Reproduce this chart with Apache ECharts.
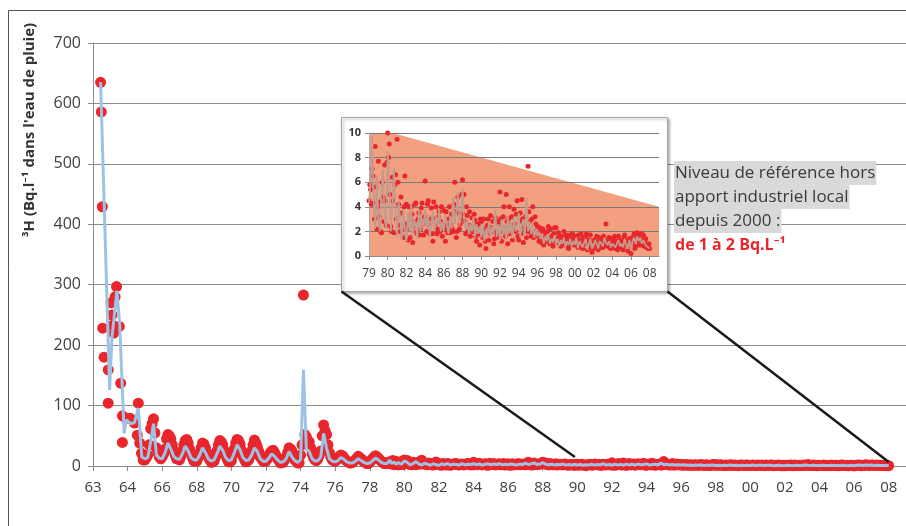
<!DOCTYPE html>
<html><head><meta charset="utf-8">
<script src="https://cdn.jsdelivr.net/npm/echarts@6/dist/echarts.min.js"></script>
<style>html,body{margin:0;padding:0;background:#fff}#c{width:906px;height:526px}</style>
</head><body><div id="c"></div>
<script>
// ---- tick labels ----
const MAIN_TICKS = ['63','64','66','68','70','72','74','76','78','80','82','84','86','88','90','92','94','96','98','00','02','04','06','08'];
const INSET_TICKS = ['79','80','82','84','86','88','90','92','94','96','98','00','02','04','06','08'];
const MAIN_Y_TICKS = [0,100,200,300,400,500,600,700];
const INSET_Y_TICKS = [0,2,4,6,8,10];

// ---- main chart, 1963-1965: [axis position, Bq/L] ----
const earlyDots = [[0.22,635],[0.24,586],[0.27,429],[0.28,228],[0.32,180],[0.44,159],[0.44,104],[0.52,270],[0.55,250],[0.57,233],[0.6,220],[0.64,280],[0.68,297],[0.76,231],[0.8,137],[0.85,83],[0.85,39],[0.95,79],[1.07,79],[1.2,71],[1.31,104],[1.28,51],[1.35,38],[1.4,21],[1.45,10]];
const earlyLine = [[0.22,635],[0.48,126],[0.55,214],[0.6,240],[0.69,290],[0.77,237],[0.9,54],[0.96,76],[1.1,70],[1.2,72],[1.31,96],[1.41,15],[1.45,12]];

// ---- main chart, 1965-1979: even-month and odd-month samples (Bq/L) ----
const dots6579 = [10,18,62,78,30,15, 15,28,52,45,25,12, 10,25,42,38,20,8, 8,22,38,30,15,6, 8,25,42,35,18,7, 9,28,44,36,16,7, 10,25,43,32,15,8, 8,18,25,22,12,5, 6,15,30,25,10,5, 18,283,48,40,20,10, 12,25,68,52,22,10, 8,12,18,14,8,5, 6,10,16,12,7,4, 6,12,17,13,8,4];
const dots6579b = [14,35,70,55,22,12, 20,45,50,35,18,14, 16,35,44,28,14,9, 14,30,36,22,10,7, 15,35,40,26,12,7, 18,38,42,26,11,8, 16,35,38,24,12,8, 12,22,26,17,9,6, 10,22,28,18,8,5, 35,52,42,30,14,9, 18,50,58,35,15,9, 10,16,17,11,7,5, 8,13,14,10,6,4, 9,15,15,10,6,4];
const line6579 = [12,14,40,70,18,13, 12,22,38,28,16,12, 11,20,33,25,14,10, 10,18,30,22,12,8, 10,20,33,26,14,9, 10,22,35,27,14,9, 10,18,30,24,12,8, 8,13,20,16,10,6, 7,12,24,15,9,6, 10,159,28,24,12,8, 9,15,54,30,12,8, 7,9,14,11,7,5, 5,8,12,9,6,4, 5,9,13,10,6,4];

// ---- 1979-2008 (inset and end of main chart), Bq/L ----
const insetDots = [
 4.5,5.4,7.1,4.3,8.9,2.2,7.7,4.4,1.9,4.8,7.4,2.5,
 10.0,9.1,2.4,6.4,1.9,6.6,9.5,4.2,2.0,3.5,1.5,6.5,
 4.2,1.3,3.0,4.0,1.1,2.8,4.3,1.8,3.5,2.2,4.3,1.7,
 6.1,2.0,4.5,1.8,3.9,1.2,3.0,4.0,2.2,3.6,2.8,1.6,
 3.7,1.2,2.5,3.0,1.9,3.4,2.0,6.0,1.5,4.8,2.2,3.0,
 6.2,5.0,1.8,3.3,2.5,1.6,3.1,2.0,2.9,1.2,2.5,0.9,
 2.8,1.5,2.2,0.6,2.5,1.3,3.3,2.0,1.0,3.1,1.8,2.6,
 5.2,1.2,3.2,2.3,5.0,1.0,4.0,2.5,1.3,3.8,2.0,4.5,
 1.3,3.5,4.6,1.1,2.2,1.5,7.3,2.8,1.6,4.0,2.0,2.6,
 2.4,1.2,2.0,1.5,0.9,1.9,1.2,2.4,1.0,1.6,0.8,2.3,
 2.3,1.1,1.6,0.8,1.4,2.0,0.9,1.3,0.6,1.7,1.0,1.5,
 1.0,1.6,0.7,1.3,1.8,0.6,1.2,1.5,0.5,1.1,1.7,0.3,
 0.6,1.2,1.6,0.5,1.0,1.4,0.7,1.2,2.6,0.8,1.5,0.6,
 1.0,1.3,0.6,0.9,1.6,0.7,1.2,0.5,1.7,1.0,0.4,1.4,
 0.2,1.5,1.8,0.8,1.9,1.2,1.6,0.9,1.7,1.1,0.7,0.6,
 0.6];
const insetDotsB = [
 5.8,4.2,6.5,3.0,5.6,4.0,3.2,2.0,6.0,2.8,4.5,7.6,
 8.0,5.0,2.0,4.5,5.8,3.0,6.0,2.5,4.8,2.2,4.0,2.6,
 2.2,4.0,1.5,3.4,2.4,4.2,2.0,3.0,1.7,3.9,2.6,3.2,
 3.0,4.2,2.5,3.0,1.8,4.4,2.6,1.8,3.2,2.0,4.0,2.5,
 2.2,3.6,1.9,4.0,2.6,2.2,4.2,3.6,2.0,3.5,2.6,5.0,
 3.4,2.8,4.0,2.0,3.6,2.4,2.0,3.4,1.6,2.6,1.8,3.0,
 1.6,3.0,1.2,2.0,3.0,1.8,2.3,2.8,1.4,2.0,2.8,1.5,
 3.0,2.0,4.0,1.6,2.8,3.0,1.8,3.2,2.2,2.6,3.4,1.6,
 2.8,1.8,3.0,2.4,3.2,2.0,3.6,2.0,3.0,1.5,3.2,1.8,
 1.6,2.3,1.1,2.2,1.5,1.2,2.0,1.4,2.2,1.1,1.8,1.3,
 1.4,1.9,1.2,1.6,1.0,1.5,1.7,0.8,1.5,1.2,1.8,0.9,
 1.4,0.9,1.7,1.0,0.8,1.5,1.0,1.8,0.9,1.3,0.7,1.2,
 1.3,0.8,1.1,1.5,0.7,1.2,1.6,0.9,1.3,1.1,0.7,1.4,
 0.7,1.6,1.2,0.5,1.3,1.1,0.8,1.5,0.9,1.3,0.8,1.0,
 1.0,1.2,0.6,1.4,1.6,0.9,1.8,1.3,0.8,1.4,0.9,1.0];
const insetLine = [
 4.3,6.0,9.8,4.5,2.2,6.5,3.0,2.0,5.5,7.0,3.0,2.2,
 8.5,6.0,2.0,4.0,7.2,3.5,1.5,4.5,3.0,1.3,3.8,2.0,
 1.2,3.5,2.0,4.2,1.5,3.0,2.4,1.4,3.8,2.0,3.0,2.4,
 3.8,2.2,3.4,1.5,2.8,3.6,2.0,3.2,2.5,3.8,2.0,2.8,
 2.0,3.4,2.5,1.8,3.2,2.2,4.8,2.6,3.5,5.2,2.5,3.2,
 5.5,3.0,2.2,3.0,1.8,2.6,2.0,3.2,1.5,2.6,1.8,2.4,
 1.5,2.6,1.2,2.2,1.6,2.8,1.4,2.4,1.8,3.8,1.6,2.6,
 1.2,3.0,1.8,2.6,1.3,3.2,1.8,2.8,1.4,3.2,2.0,2.4,
 3.5,1.5,2.5,3.0,1.6,4.8,2.0,2.8,1.8,2.6,1.5,2.2,
 1.6,2.0,1.4,1.8,1.0,1.6,1.2,1.8,1.0,1.4,1.1,1.7,
 1.0,1.4,0.8,1.3,1.0,1.5,0.7,1.2,0.9,1.4,0.8,1.2,
 0.9,1.5,0.6,1.2,1.3,0.7,1.1,1.4,0.5,1.0,1.4,0.6,
 0.8,1.3,1.0,0.6,1.2,1.0,0.8,1.5,1.1,0.9,1.2,0.7,
 1.0,1.1,0.7,1.0,1.3,0.8,1.0,0.7,1.4,0.9,0.6,1.3,
 0.5,1.2,1.5,1.0,1.6,1.2,1.5,1.0,1.3,1.0,0.8,0.7,
 0.6];

// reference band in the inset (axis position, Bq/L)
const refBand = [[0,10],[1.27,10],[15.5,4]];

const STEP = 1/12;
const latePos = j => (j < 12 ? 8.5 + j/24 : 9 + (j-12)*STEP);
const mainDots = earlyDots
  .concat(dots6579.map((v,k)=>[1.5 + k*STEP, v]))
  .concat(dots6579b.map((v,k)=>[1.5 + (k+0.5)*STEP, v]))
  .concat(insetDots.map((v,j)=>[latePos(j), v]))
  .concat(insetDotsB.map((v,j)=>[latePos(j+0.5), v]));
const mainLine = earlyLine
  .concat(line6579.map((v,k)=>[1.5 + k*STEP, v]))
  .concat(insetLine.map((v,j)=>[latePos(j), v]));
const insetDotData = insetDots.map((v,j)=>[j*STEP, v])
  .concat(insetDotsB.map((v,j)=>[(j+0.5)*STEP, v]));
const insetLineData = insetLine.map((v,j)=>[j*STEP, v]);

const RED = '#E8262C';
const FONT = '"Open Sans", "Noto Sans", sans-serif';
const tickFmt = arr => v => { const i = Math.round(v); return Math.abs(v - i) < 1e-6 && arr[i] !== undefined ? arr[i] : ''; };

const chart = echarts.init(document.getElementById('c'), null, {renderer:'canvas'});
const option = {
  animation: false,
  backgroundColor: '#fff',
  grid: [
    {left: 93, right: 0, top: 43, bottom: 60},
    {left: 369, right: 247, top: 133, bottom: 270, zlevel: 1}
  ],
  xAxis: [
    {gridIndex: 0, type: 'value', min: 0, max: 23.5, interval: 1,
     axisLine: {show: true, lineStyle: {color: '#8A8A8A', width: 1}},
     axisTick: {show: true, length: 5, lineStyle: {color: '#8A8A8A'}},
     axisLabel: {formatter: tickFmt(MAIN_TICKS), fontSize: 15, color: '#404040', margin: 14, fontFamily: FONT, showMaxLabel: false},
     splitLine: {show: false}},
    {gridIndex: 1, type: 'value', min: 0, max: 15.5, interval: 1, zlevel: 1, z: 3,
     axisLine: {show: true, lineStyle: {color: '#8A8A8A', width: 1}},
     axisTick: {show: true, length: 4, lineStyle: {color: '#8A8A8A'}},
     axisLabel: {formatter: tickFmt(INSET_TICKS), fontSize: 12, color: '#404040', margin: 12, fontFamily: FONT, showMaxLabel: false},
     splitLine: {show: false}}
  ],
  yAxis: [
    {gridIndex: 0, type: 'value', min: MAIN_Y_TICKS[0], max: MAIN_Y_TICKS[MAIN_Y_TICKS.length-1], interval: 100,
     axisLine: {show: true, lineStyle: {color: '#8A8A8A'}},
     axisTick: {show: true, length: 5, lineStyle: {color: '#8A8A8A'}},
     axisLabel: {fontSize: 16, color: '#404040', margin: 12, fontFamily: FONT},
     splitLine: {show: true, lineStyle: {color: '#8A8A8A', width: 1}}},
    {gridIndex: 1, type: 'value', min: INSET_Y_TICKS[0], max: INSET_Y_TICKS[INSET_Y_TICKS.length-1], interval: 2, zlevel: 1, z: 3,
     axisLine: {show: true, lineStyle: {color: '#A8A8A8'}},
     axisTick: {show: true, length: 4, lineStyle: {color: '#8A8A8A'}},
     axisLabel: {fontSize: 11, fontWeight: 'bold', color: '#333', margin: 8, fontFamily: FONT},
     splitLine: {show: true, lineStyle: {color: '#7A7A7A', width: 1}}}
  ],
  series: [
    {type: 'scatter', xAxisIndex: 0, yAxisIndex: 0, data: mainDots, symbolSize: 11,
     itemStyle: {color: RED, opacity: 1}, z: 2},
    {type: 'line', xAxisIndex: 0, yAxisIndex: 0, data: mainLine, showSymbol: false, symbol: 'none',
     lineStyle: {color: '#9CC3E6', width: 3}, z: 3},
    {type: 'line', xAxisIndex: 1, yAxisIndex: 1, data: refBand, symbol: 'none',
     lineStyle: {width: 0}, areaStyle: {color: '#F3A081', opacity: 1}, zlevel: 1, z: 1},
    {type: 'scatter', xAxisIndex: 1, yAxisIndex: 1, data: insetDotData, symbolSize: 5,
     itemStyle: {color: RED, opacity: 1}, zlevel: 1, z: 5},
    {type: 'line', xAxisIndex: 1, yAxisIndex: 1, data: insetLineData, symbol: 'none',
     lineStyle: {color: '#C49A8C', width: 1.8}, zlevel: 1, z: 6}
  ]
};
chart.setOption(option);

// annotation graphics
const pL = chart.convertToPixel({gridIndex: 0}, [13.93, 15]);
const pR = chart.convertToPixel({gridIndex: 0}, [23, 6.6]);
const boxX = 341.5, boxY = 117.5, boxW = 326, boxH = 174;
const textLines = ['Niveau de référence hors', 'apport industriel local', 'depuis 2000 :'];
const elements = [
  {type: 'rect', shape: {x: 8.5, y: 10.5, width: 920, height: 540}, style: {fill: 'none', stroke: '#555', lineWidth: 1}, z: 0, silent: true},
  {type: 'text', x: 30, y: 130, rotation: Math.PI/2,
   style: {text: "³H (Bq.l⁻¹ dans l'eau de pluie)", font: 'bold 15px ' + FONT, fill: '#333', align: 'center', verticalAlign: 'middle'}, z: 10},
  {type: 'rect', zlevel: 1, z: 0, shape: {x: boxX, y: boxY, width: boxW, height: boxH},
   style: {fill: '#fff', stroke: '#A6A6A6', lineWidth: 1, shadowBlur: 3, shadowColor: 'rgba(0,0,0,0.35)', shadowOffsetX: 1.5, shadowOffsetY: 1.5}},
  {type: 'line', zlevel: 1, z: 20, shape: {x1: boxX, y1: boxY + boxH, x2: pL[0], y2: pL[1]}, style: {stroke: '#1a1a1a', lineWidth: 2.5}},
  {type: 'line', zlevel: 1, z: 20, shape: {x1: boxX + boxW, y1: boxY + boxH, x2: pR[0], y2: pR[1]}, style: {stroke: '#1a1a1a', lineWidth: 2.5}}
];
textLines.forEach((t, i) => {
  elements.push({type: 'text', x: 674, y: 173 + i*24, z: 15,
    style: {text: t, font: '17px ' + FONT, fill: '#3A3A3A', verticalAlign: 'middle', align: 'left',
            backgroundColor: '#D9D9D9', padding: [2, 1, 2, 1], lineHeight: 20}});
});
elements.push({type: 'text', x: 675, y: 245, z: 15,
  style: {text: 'de 1 à 2 Bq.L⁻¹', font: 'bold 16px ' + FONT, fill: RED, verticalAlign: 'middle', align: 'left'}});
chart.setOption({graphic: {elements}});
</script>
</body></html>
